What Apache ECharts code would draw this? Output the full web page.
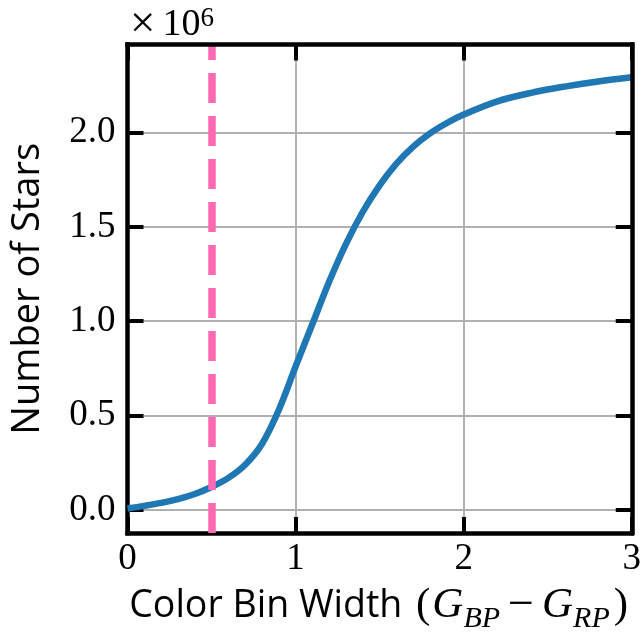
<!DOCTYPE html>
<html>
<head>
<meta charset="utf-8">
<script src="https://cdn.jsdelivr.net/npm/echarts@6/dist/echarts.min.js"></script>
<style>
html,body{margin:0;padding:0;background:#fff;}
#chart{width:644px;height:639px;}
</style>
</head>
<body>
<div id="chart"></div>
<script>
// Data (number of stars in units of 1e6)
const binWidths = [0, 0.1, 0.2, 0.3, 0.4, 0.5, 0.6, 0.7, 0.8, 0.9, 1.0, 1.1, 1.2, 1.3, 1.4, 1.5, 1.6, 1.7, 1.8, 1.9, 2.0, 2.2, 2.4, 2.6, 2.8, 3.0];
const starCounts = [0.008, 0.022, 0.038, 0.058, 0.085, 0.122, 0.17, 0.24, 0.35, 0.53, 0.76, 0.985, 1.21, 1.41, 1.58, 1.72, 1.835, 1.925, 1.995, 2.05, 2.095, 2.165, 2.21, 2.243, 2.27, 2.292];
const xTicks = [0, 1, 2, 3];
const yTicks = [0, 0.5, 1.0, 1.5, 2.0];
const binCut = 0.5;

const Y_MIN = -0.1224, Y_MAX = 2.466;
const serif = 'Liberation Serif';
const sans = 'Open Sans';

const chart = echarts.init(document.getElementById('chart'), null, {renderer: 'canvas'});

const gridSplit = {show: true, lineStyle: {color: '#b0b0b0', width: 2}};
const tickStyle = {show: true, inside: true, length: 16, lineStyle: {color: '#000', width: 4}};
const lineStyleBorder = {show: true, onZero: false, lineStyle: {color: '#000', width: 4.5, cap: 'square'}};

const option = {
  animation: false,
  backgroundColor: '#fff',
  grid: {left: 127.5, right: 11, top: 44.5, bottom: 104, containLabel: false},
  xAxis: [
    {
      type: 'value', position: 'bottom', min: 0, max: 3, interval: 1,
      axisLine: lineStyleBorder,
      axisTick: Object.assign({}, tickStyle, {customValues: xTicks}),
      splitLine: gridSplit,
      axisLabel: {customValues: xTicks, margin: 8, color: '#000', fontFamily: serif, fontSize: 37, formatter: v => String(v)},
      name: '{a|Color Bin Width }{b|(}{i|G}{s|BP}{m|−}{i|G}{s|RP}{b|)}',
      nameLocation: 'middle', nameGap: 42,
      nameTextStyle: {
        color: '#000',
        rich: {
          a: {fontFamily: sans, fontSize: 37.5, color: '#000', lineHeight: 56},
          b: {fontFamily: serif, fontSize: 43, color: '#000', lineHeight: 56, padding: [0, 2, 0, 4]},
          m: {fontFamily: serif, fontSize: 46, color: '#000', lineHeight: 56, padding: [0, 8, 0, 8]},
          i: {fontFamily: serif, fontStyle: 'italic', fontSize: 43, color: '#000', lineHeight: 56},
          s: {fontFamily: serif, fontStyle: 'italic', fontSize: 30, color: '#000', lineHeight: 32, verticalAlign: 'bottom'}
        }
      }
    },
    {
      type: 'value', position: 'top', min: 0, max: 3, interval: 1, z: 10,
      axisLine: lineStyleBorder,
      axisTick: Object.assign({}, tickStyle, {customValues: xTicks}),
      splitLine: {show: false},
      axisLabel: {show: false}
    }
  ],
  yAxis: [
    {
      type: 'value', position: 'left', min: Y_MIN, max: Y_MAX,
      axisLine: lineStyleBorder,
      axisTick: Object.assign({}, tickStyle, {customValues: yTicks}),
      splitLine: gridSplit,
      axisLabel: {customValues: yTicks, margin: 12, color: '#000', fontFamily: serif, fontSize: 37, formatter: v => v.toFixed(1)},
      name: 'Number of Stars',
      nameLocation: 'middle', nameGap: 80,
      nameTextStyle: {color: '#000', fontFamily: sans, fontSize: 38}
    },
    {
      type: 'value', position: 'right', min: Y_MIN, max: Y_MAX, z: 10,
      axisLine: lineStyleBorder,
      axisTick: Object.assign({}, tickStyle, {customValues: yTicks}),
      splitLine: {show: false},
      axisLabel: {show: false}
    }
  ],
  graphic: [
    {
      type: 'text', left: 130, top: 3, z: 20,
      style: {
        text: '{m|×}{n|10}{s|6}',
        rich: {
          m: {fontFamily: serif, fontSize: 45, fill: '#000', lineHeight: 40},
          n: {fontFamily: serif, fontSize: 38, fill: '#000', lineHeight: 40, padding: [0, 0, 0, 7]},
          s: {fontFamily: serif, fontSize: 27, fill: '#000', lineHeight: 19, verticalAlign: 'top'}
        }
      }
    }
  ],
  series: [
    {
      type: 'line', name: 'stars', xAxisIndex: 0, yAxisIndex: 0, z: 3,
      data: binWidths.map((x, i) => [x, starCounts[i]]),
      smooth: 0.35, showSymbol: false, symbol: 'none',
      lineStyle: {color: '#1f77b4', width: 6.5},
      clip: true
    },
    {
      type: 'line', name: 'cut', xAxisIndex: 0, yAxisIndex: 0, z: 4,
      data: [], symbol: 'none',
      markLine: {
        silent: true, symbol: ['none', 'none'], label: {show: false},
        lineStyle: {color: '#ff69b4', width: 7.5, type: [30, 13], opacity: 1},
        data: [[{coord: [binCut, Y_MIN]}, {coord: [binCut, Y_MAX]}]]
      }
    }
  ]
};
chart.setOption(option);
</script>
</body>
</html>
